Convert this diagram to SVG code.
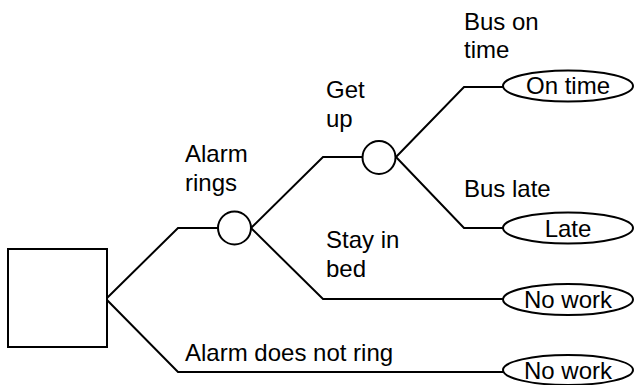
<svg xmlns="http://www.w3.org/2000/svg" width="638" height="385" viewBox="0 0 638 385">
  <style>
    .edge { fill: none; stroke: #000; stroke-width: 2; stroke-linejoin: miter; }
    .shape { fill: #fff; stroke: #000; stroke-width: 2; }
    text { font-family: "Liberation Sans", Arial, Helvetica, sans-serif; font-size: 24px; fill: #000; }
    .mid { text-anchor: middle; }
  </style>
  <rect width="638" height="385" fill="#fff"/>

  <!-- branches -->
  <g id="connectors">
    <polyline class="edge" points="107,298 178,228 218,228"/>
    <polyline class="edge" points="107,300 178,372 503,372"/>
    <polyline class="edge" points="251,228 323,157 362,157"/>
    <polyline class="edge" points="251,228 323,299 503,299"/>
    <polyline class="edge" points="396,157 464,87 503,87"/>
    <polyline class="edge" points="396,157 464,228 503,228"/>
  </g>

  <!-- decision node -->
  <g id="decision">
    <rect class="shape" x="8" y="249" width="99" height="98"/>
  </g>

  <!-- chance nodes -->
  <g id="chance-alarm">
    <circle class="shape" cx="234.5" cy="228" r="16.5"/>
  </g>
  <g id="chance-bus">
    <circle class="shape" cx="379" cy="157.5" r="16.5"/>
  </g>

  <!-- outcomes -->
  <g id="outcome-ontime">
    <ellipse class="shape" cx="568" cy="86" rx="65" ry="15.5"/>
    <text class="mid" x="568" y="94">On time</text>
  </g>
  <g id="outcome-late">
    <ellipse class="shape" cx="568" cy="228" rx="65" ry="15.5"/>
    <text class="mid" x="568" y="237">Late</text>
  </g>
  <g id="outcome-nowork-bed">
    <ellipse class="shape" cx="568" cy="299.5" rx="65" ry="15.5"/>
    <text class="mid" x="568" y="308">No work</text>
  </g>
  <g id="outcome-nowork-noring">
    <ellipse class="shape" cx="568" cy="370" rx="65" ry="15"/>
    <text class="mid" x="568" y="379">No work</text>
  </g>

  <!-- branch labels -->
  <g id="labels">
    <text x="185" y="162">Alarm</text>
    <text x="185" y="191">rings</text>
    <text x="326" y="98">Get</text>
    <text x="326" y="127">up</text>
    <text x="326" y="248">Stay in</text>
    <text x="326" y="277">bed</text>
    <text x="464" y="30">Bus on</text>
    <text x="464" y="58">time</text>
    <text x="464" y="197">Bus late</text>
    <text x="185" y="361">Alarm does not ring</text>
  </g>
</svg>
